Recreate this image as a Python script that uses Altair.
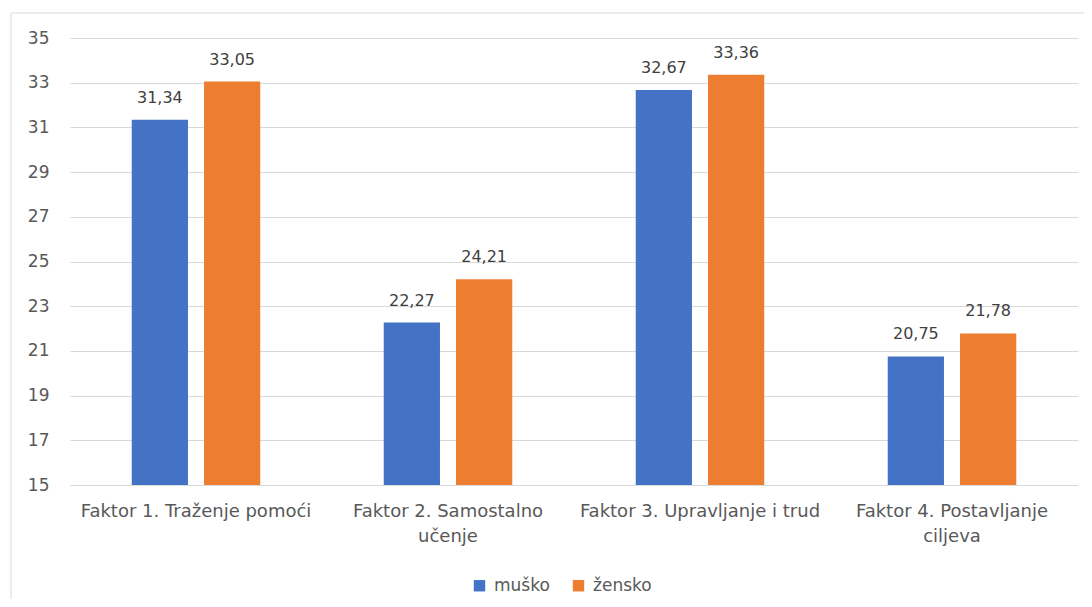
import altair as alt
import pandas as pd

categories = ["Faktor 1. Traženje pomoći", "Faktor 2. Samostalno|učenje",
              "Faktor 3. Upravljanje i trud", "Faktor 4. Postavljanje|ciljeva"]
series = ["muško", "žensko"]
musko = [31.34, 22.27, 32.67, 20.75]
zensko = [33.05, 24.21, 33.36, 21.78]
colors = ["#4472C4", "#ED7D31"]
y_ticks = list(range(15, 36, 2))

rows = []
for c, m, z in zip(categories, musko, zensko):
    rows.append({"cat": c, "spol": series[0], "val": m})
    rows.append({"cat": c, "spol": series[1], "val": z})
df = pd.DataFrame(rows)

FONT = "DejaVu Sans"

x = alt.X("cat:N", sort=categories, title=None,
          scale=alt.Scale(paddingInner=0.49, paddingOuter=0.245),
          axis=alt.Axis(labelExpr="split(datum.label, '|')", labelAngle=0,
                        labelPadding=17, ticks=False, domain=False, labelLimit=0,
                        labelFontSize=18, labelColor="#595959", labelFont=FONT,
                        labelLineHeight=25))
xo = alt.XOffset("spol:N", sort=series,
                 scale=alt.Scale(paddingInner=0.222, paddingOuter=0))
y = alt.Y("val:Q", title=None,
          scale=alt.Scale(domain=[15, 35], nice=False, zero=False),
          axis=alt.Axis(values=y_ticks, ticks=False, domain=False,
                        labelPadding=21, labelFontSize=17, labelColor="#595959",
                        labelFont=FONT, gridColor="#d9d9d9"))

bars = alt.Chart(df).mark_bar().encode(
    x=x, xOffset=xo, y=y, y2=alt.datum(15),
    color=alt.Color("spol:N", sort=series,
                    scale=alt.Scale(domain=series, range=colors),
                    legend=alt.Legend(title=None, orient="none", direction="horizontal",
                                      legendX=401, legendY=539,
                                      symbolType="square", symbolSize=130,
                                      labelFontSize=17, labelColor="#595959",
                                      labelFont=FONT, columnPadding=20, labelOffset=6,
                                      symbolStrokeWidth=0)),
)

labels = alt.Chart(df).transform_calculate(
    lab="replace(format(datum.val, '.2f'), '.', ',')"
).mark_text(baseline="bottom", dy=-14, fontSize=16, color="#404040", font=FONT).encode(
    x=alt.X("cat:N", sort=categories), xOffset=alt.XOffset("spol:N", sort=series),
    y="val:Q", text="lab:N",
)

border = alt.Chart(pd.DataFrame({"a": [0]})).mark_rect(
    fill=None, stroke="#d9d9d9", strokeWidth=1, clip=False
).encode(x=alt.value(-59), x2=alt.value(1100), y=alt.value(-25), y2=alt.value(700))

chart = alt.layer(border, bars, labels).properties(
    width=1008, height=447,
    autosize=alt.AutoSizeParams(type="none"),
    padding={"left": 62, "top": 30, "right": 6, "bottom": 114},
    background="white",
).configure_view(stroke=None)

chart.save("out.html", embed_options={"renderer": "svg", "actions": False})
